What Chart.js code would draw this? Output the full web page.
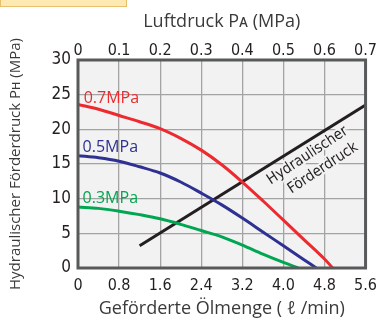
<!DOCTYPE html>
<html>
<head>
<meta charset="utf-8">
<script src="https://cdn.jsdelivr.net/npm/chart.js@4.4.1/dist/chart.umd.min.js"></script>
<style>
  body { margin: 0; background: #fff; }
  #wrap { position: relative; width: 385px; height: 323px; }
  #tab { position: absolute; left: 0; top: 0; width: 125px; height: 6px;
         background: #fde9b2; border: 1px solid #e9bf6e; border-top: none; }
</style>
</head>
<body>
<div id="wrap">
  <canvas id="myChart" width="385" height="323"></canvas>
  <div id="tab"></div>
</div>
<script>
// tick values
var flowTicks = [0, 0.8, 1.6, 2.4, 3.2, 4.0, 4.8, 5.6]
var airTicks = [0, 0.1, 0.2, 0.3, 0.4, 0.5, 0.6, 0.7]
var pressureTicks = [0, 5, 10, 15, 20, 25, 30]

// pump curves: oil flow (l/min) -> hydraulic pressure (MPa)
var flow07 = [0, 0.4, 0.8, 1.2, 1.6, 2.0, 2.4, 2.8, 3.2, 3.6, 4.0, 4.4, 4.8, 4.96]
var ph07 = [23.6, 22.9, 22.0, 21.1, 20.1, 18.7, 17.0, 14.9, 12.4, 9.7, 6.9, 4.1, 1.3, 0]
var flow05 = [0, 0.4, 0.8, 1.2, 1.6, 2.0, 2.4, 2.8, 3.2, 3.6, 4.0, 4.4, 4.64]
var ph05 = [16.2, 15.9, 15.4, 14.6, 13.7, 12.4, 10.8, 9.1, 7.2, 5.2, 3.2, 1.2, 0]
var flow03 = [0, 0.4, 0.8, 1.2, 1.6, 2.0, 2.4, 2.8, 3.2, 3.6, 4.0, 4.29]
var ph03 = [8.8, 8.6, 8.2, 7.7, 7.1, 6.3, 5.4, 4.5, 3.3, 2.0, 0.8, 0]

// hydraulic pressure vs air pressure (top axis)
var airP = [0.15, 0.7]
var phAir = [3.2, 23.5]

var seriesNames = ["0.7MPa", "0.5MPa", "0.3MPa"]
var seriesColors = ["#ec2a30", "#2e3192", "#00a651"]

var narrow = "'DejaVu Sans Condensed', 'Liberation Sans Narrow', sans-serif"
var plain = "'Open Sans', 'Liberation Sans', sans-serif"

function pts(xs, ys) {
  var out = []
  for (var i = 0; i < xs.length; i++) out.push({x: xs[i], y: ys[i]})
  return out
}

function fixTicks(list) {
  return function(scale) {
    scale.ticks = list.map(function(v){ return {value: v} })
  }
}

var plotArea = {
  id: "plotArea",
  beforeDraw: function(chart) {
    var a = chart.chartArea, ctx = chart.ctx
    ctx.save()
    ctx.fillStyle = "#f1f2f1"
    ctx.fillRect(a.left, a.top, a.right - a.left, a.bottom - a.top)
    ctx.restore()
  },
  afterDatasetsDraw: function(chart) {
    var a = chart.chartArea, ctx = chart.ctx
    var x = chart.scales.x, y = chart.scales.y
    ctx.save()
    ctx.strokeStyle = "#58595b"
    ctx.lineWidth = 3
    ctx.strokeRect(a.left, a.top, a.right - a.left, a.bottom - a.top)

    // curve names
    var at = [[0.11, 24.5], [0.09, 17.4], [0.09, 10.1]]
    ctx.font = "16px " + plain
    ctx.textAlign = "left"
    ctx.textBaseline = "middle"
    for (var i = 0; i < seriesNames.length; i++) {
      ctx.fillStyle = seriesColors[i]
      ctx.fillText(seriesNames[i], x.getPixelForValue(at[i][0]), y.getPixelForValue(at[i][1]))
    }

    // label along the black line
    ctx.translate(x.getPixelForValue(4.62), y.getPixelForValue(15.3))
    ctx.rotate(-33.5 * Math.PI / 180)
    ctx.textAlign = "center"
    ctx.font = "15px " + narrow
    ctx.lineWidth = 4
    ctx.strokeStyle = "#f1f2f1"
    ctx.fillStyle = "#231f20"
    var lines = ["Hydraulischer", "Förderdruck"]
    for (var j = 0; j < lines.length; j++) {
      var lx = (j - 0.5) * 6, ly = (j - 0.5) * 19
      ctx.strokeText(lines[j], lx, ly)
      ctx.fillText(lines[j], lx, ly)
    }
    ctx.restore()
  }
}

var myChart = document.getElementById("myChart").getContext("2d")
var chart = new Chart(myChart, {
  type: "line",
  data: {
    datasets: [
      { data: pts(flow07, ph07), borderColor: seriesColors[0], xAxisID: "x" },
      { data: pts(flow05, ph05), borderColor: seriesColors[1], xAxisID: "x" },
      { data: pts(flow03, ph03), borderColor: seriesColors[2], xAxisID: "x" },
      { data: pts(airP, phAir), borderColor: "#231f20", xAxisID: "x2", tension: 0 }
    ]
  },
  options: {
    responsive: false,
    animation: false,
    layout: { padding: { left: 0, right: 18, top: 0, bottom: 0 } },
    elements: {
      line: { borderWidth: 3, tension: 0.35, fill: false },
      point: { radius: 0 }
    },
    plugins: { legend: { display: false }, tooltip: { enabled: false } },
    scales: {
      x: {
        type: "linear", position: "bottom", min: 0, max: 5.6,
        afterBuildTicks: fixTicks(flowTicks),
        afterFit: function(s){ s.height = 55 },
        grid: { color: "#a3a3a3", lineWidth: 1.3, drawTicks: false },
        border: { display: false },
        ticks: { padding: 8, color: "#231f20", font: { family: narrow, size: 16 },
                 callback: function(v, i){ return flowTicks[i].toFixed(i == 0 ? 0 : 1) } },
        title: { display: true, text: "Geförderte Ölmenge ( ℓ /min)", color: "#3a3a3a",
                 font: { family: plain, size: 18 }, padding: { top: 0, bottom: 3 } }
      },
      x2: {
        type: "linear", position: "top", min: 0, max: 0.7,
        afterBuildTicks: fixTicks(airTicks),
        afterFit: function(s){ s.height = 60 },
        grid: { display: false, drawTicks: false },
        border: { display: false },
        ticks: { padding: 0, color: "#231f20", font: { family: narrow, size: 16 },
                 callback: function(v, i){ return i == 0 ? "0" : airTicks[i].toFixed(1) } },
        title: { display: true, text: "Luftdruck Pᴀ (MPa)", color: "#3a3a3a",
                 font: { family: plain, size: 18 }, padding: { top: 11, bottom: 0 } }
      },
      y: {
        min: 0, max: 30,
        afterBuildTicks: fixTicks(pressureTicks),
        afterFit: function(s){ s.width = 78 },
        grid: { color: "#a3a3a3", lineWidth: 1.3, drawTicks: false },
        border: { display: false },
        ticks: { padding: 7, color: "#231f20", font: { family: narrow, size: 17 } },
        title: { display: true, text: "Hydraulischer Förderdruck Pʜ (MPa)", color: "#3a3a3a",
                 font: { family: plain, size: 15 }, padding: { top: 7, bottom: 0 } }
      }
    }
  },
  plugins: [plotArea]
})
</script>
</body>
</html>
